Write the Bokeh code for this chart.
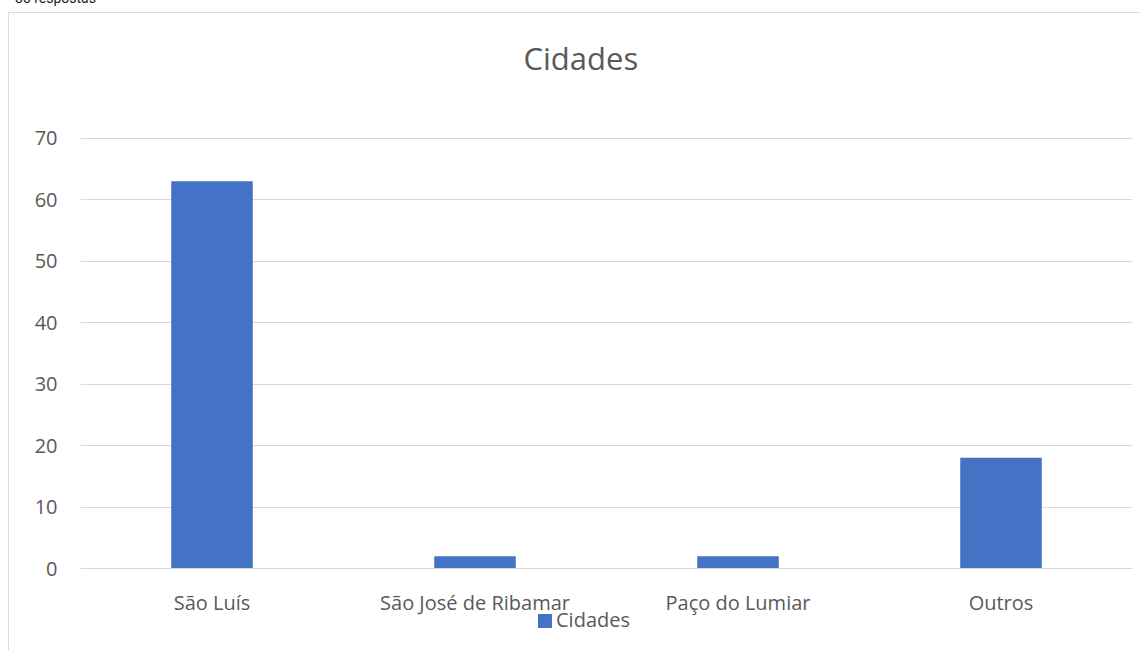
from bokeh.plotting import figure
from bokeh.models import (ColumnDataSource, FactorRange, Range1d, FixedTicker, Div)
from bokeh.layouts import column
from bokeh.embed import file_html
from bokeh.resources import INLINE

# Survey answers per city
cidades = ["São Luís", "São José de Ribamar", "Paço do Lumiar", "Outros"]
respostas = [63, 2, 2, 18]
y_ticks = [0, 10, 20, 30, 40, 50, 60, 70]
titulo = "Cidades"
serie = "Cidades"
total_txt = "85 respostas"

FONT = "Open Sans"
TXT = "#595959"
BAR = "#4472C4"
GRID = "#D9D9D9"
CARD = "#DADCE0"

source = ColumnDataSource(dict(cidade=cidades, n=respostas))

# the value range runs a little past the top tick to leave room under the title
p = figure(
    width=1132, height=638,
    x_range=FactorRange(*cidades, range_padding=0),
    y_range=Range1d(0, 76.14),
    output_backend="svg", toolbar_location=None,
    min_border_left=71, min_border_right=9,
    min_border_top=84, min_border_bottom=83,
    title=titulo,
    styles={"border-left": f"1px solid {CARD}", "border-top": f"1px solid {CARD}"},
    margin=(0, 0, 0, 8),
)
p.outline_line_color = None
p.background_fill_color = "white"
p.border_fill_color = "white"

p.title.text_font = FONT
p.title.text_font_size = "31px"
p.title.text_font_style = "normal"
p.title.text_color = TXT
p.title.align = "left"
p.title.offset = 443
p.title.standoff = 43

p.vbar(x="cidade", top="n", width=0.31, source=source,
       fill_color=BAR, line_color=None)

# axes
p.yaxis.ticker = FixedTicker(ticks=y_ticks)
for ax in (p.xaxis[0], p.yaxis[0]):
    ax.axis_line_color = None
    ax.major_tick_line_color = None
    ax.minor_tick_line_color = None
    ax.major_tick_out = 0
    ax.major_tick_in = 0
    ax.major_label_text_font = FONT
    ax.major_label_text_font_size = "20px"
    ax.major_label_text_color = TXT
p.xaxis.axis_line_color = GRID
p.yaxis.major_label_standoff = 23
p.xaxis.major_label_standoff = 20

p.xgrid.grid_line_color = None
p.ygrid.grid_line_color = GRID
p.ygrid.grid_line_width = 1

# series key under the category labels
key = Div(text=(f'<span style="display:inline-block;width:14px;height:14px;'
                f'background:{BAR};margin-right:4px;vertical-align:-1px"></span>{serie}'),
          width=140, height=28,
          styles={"font-family": FONT, "font-size": "20px", "color": TXT,
                  "line-height": "28px", "white-space": "nowrap"},
          margin=(-44, 0, 0, 538))

# response count above the card
head = Div(text=f'<span style="position:relative;top:-9px">{total_txt}</span>',
           width=300, height=12,
           styles={"font-family": "Roboto", "font-size": "14px", "color": "#202124",
                   "line-height": "14px", "overflow": "visible"},
           margin=(0, 0, 0, 15))

page = column(head, p, key, spacing=0)

open("out.html", "w").write(file_html(page, INLINE))
